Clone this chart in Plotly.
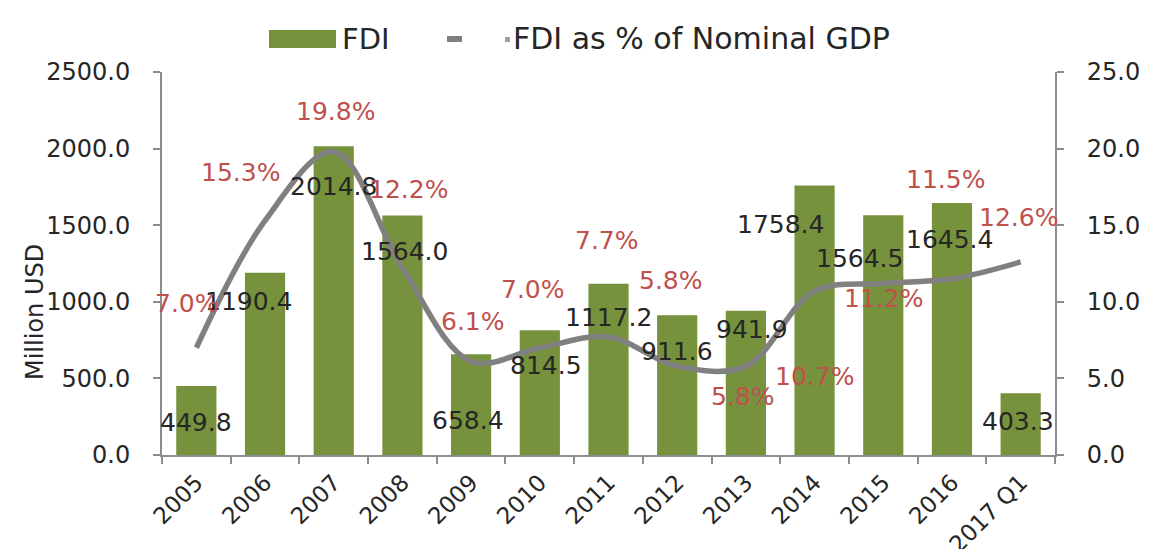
import plotly.graph_objects as go

# ---------------- data ----------------
categories = ["2005", "2006", "2007", "2008", "2009", "2010", "2011",
              "2012", "2013", "2014", "2015", "2016", "2017 Q1"]
fdi = [449.8, 1190.4, 2014.8, 1564.0, 658.4, 814.5, 1117.2,
       911.6, 941.9, 1758.4, 1564.5, 1645.4, 403.3]
fdi_pct_gdp = [7.0, 15.3, 19.8, 12.2, 6.1, 7.0, 7.7, 5.8, 5.8, 10.7, 11.2, 11.5, 12.6]
left_ticks = [0, 500, 1000, 1500, 2000, 2500]
right_ticks = [0, 5, 10, 15, 20, 25]

# ---------------- styling (label offsets in px) ----------------
fdi_dx = [0, -17, 0, 2, -3, 6, 0, 0, 6, -34, -24, -2, -3]
fdi_dy = [-36, -29, -40, -36, -66, -35, -34, -36, -19, -39, -43, -37, -28]
pct_dx = [-9, -25, 2, 6, 2, -7, -2, -6, -3, 0, 0, -6, -2]
pct_dy = [44, 48, 40, 79, 40, 58, 97, 86, -30, -85, -15, 99, 44]

FONT = "DejaVu Sans"
GREEN = "#76923c"
GREY_LINE = "#808080"
AXIS = "#8c8c8c"
RED = "#c0504d"
TXT = "#262626"

W, H = 1152, 549
L, R, T, B = 154, 105, 64, 102
PW, PH = W - L - R, H - T - B


def px_x(px):
    return (px - L) / PW


def px_y(py):
    return (H - B - py) / PH


fig = go.Figure()

fig.add_trace(go.Bar(
    x=categories, y=fdi, name="FDI",
    marker=dict(color=GREEN, line=dict(width=0)),
    yaxis="y",
))

fig.add_trace(go.Scatter(
    x=categories, y=fdi_pct_gdp, name="FDI as % of Nominal GDP",
    mode="lines",
    line=dict(color=GREY_LINE, width=5.5, shape="spline", smoothing=1.0),
    yaxis="y2",
))

annotations = []
# on a category axis, annotation x is given as the category index
for i, (v, dx, dy) in enumerate(zip(fdi, fdi_dx, fdi_dy)):
    annotations.append(dict(
        x=i, y=v, xref="x", yref="y", text=f"{v:.1f}", showarrow=False,
        xshift=dx, yshift=dy, font=dict(family=FONT, size=25, color=TXT),
    ))
for i, (p, dx, dy) in enumerate(zip(fdi_pct_gdp, pct_dx, pct_dy)):
    annotations.append(dict(
        x=i, y=p, xref="x", yref="y2", text=f"{p:.1f}%", showarrow=False,
        xshift=dx, yshift=dy, font=dict(family=FONT, size=25, color=RED),
    ))

# y-axis title
annotations.append(dict(
    x=px_x(27), y=px_y(304), xref="paper", yref="paper", text="Million USD",
    textangle=-90, showarrow=False, font=dict(family=FONT, size=24, color=TXT),
    xanchor="center", yanchor="middle",
))

# custom legend
legend_y = px_y(31)
annotations.append(dict(
    x=px_x(332), y=legend_y, xref="paper", yref="paper", text="FDI",
    showarrow=False, xanchor="left", yanchor="middle",
    font=dict(family=FONT, size=29, color=TXT),
))
annotations.append(dict(
    x=px_x(503), y=legend_y, xref="paper", yref="paper",
    text="FDI as % of Nominal GDP",
    showarrow=False, xanchor="left", yanchor="middle",
    font=dict(family=FONT, size=30, color=TXT),
))

shapes = [
    dict(type="rect", xref="paper", yref="paper",
         x0=px_x(261), x1=px_x(328), y0=px_y(40), y1=px_y(22),
         fillcolor=GREEN, line=dict(width=0)),
    dict(type="line", xref="paper", yref="paper",
         x0=px_x(439), x1=px_x(454), y0=px_y(31), y1=px_y(31),
         line=dict(color=GREY_LINE, width=6)),
    dict(type="rect", xref="paper", yref="paper",
         x0=px_x(497), x1=px_x(502), y0=px_y(34), y1=px_y(29),
         fillcolor="#a0a0a0", line=dict(width=0)),
]

fig.update_layout(
    width=W, height=H,
    margin=dict(l=L, r=R, t=T, b=B, autoexpand=False),
    plot_bgcolor="white", paper_bgcolor="white",
    showlegend=False,
    bargap=0.415,
    annotations=annotations,
    shapes=shapes,
    xaxis=dict(
        type="category", range=[-0.5, len(categories) - 0.5],
        tickangle=-45, tickson="boundaries", automargin=False,
        ticks="outside", ticklen=7, tickcolor=AXIS, tickwidth=1.5,
        showline=True, linecolor=AXIS, linewidth=2, showgrid=False,
        tickfont=dict(family=FONT, size=23, color=TXT),
        ticklabelstandoff=3,
    ),
    yaxis=dict(
        range=[0, 2500], tickvals=left_ticks, tickformat=".1f", automargin=False,
        ticks="outside", ticklen=7, tickcolor=AXIS, tickwidth=1.5,
        showline=True, linecolor=AXIS, linewidth=2,
        showgrid=False, zeroline=False,
        tickfont=dict(family=FONT, size=24, color=TXT),
        ticklabelstandoff=18,
    ),
    yaxis2=dict(
        range=[0, 25], tickvals=right_ticks, tickformat=".1f", ticksuffix="%",
        overlaying="y", side="right", automargin=False,
        ticks="outside", ticklen=7, tickcolor=AXIS, tickwidth=1.5,
        showline=True, linecolor=AXIS, linewidth=2,
        showgrid=False, zeroline=False,
        tickfont=dict(family=FONT, size=24, color=TXT),
        ticklabelstandoff=18,
    ),
)

fig.write_html("out.html")
